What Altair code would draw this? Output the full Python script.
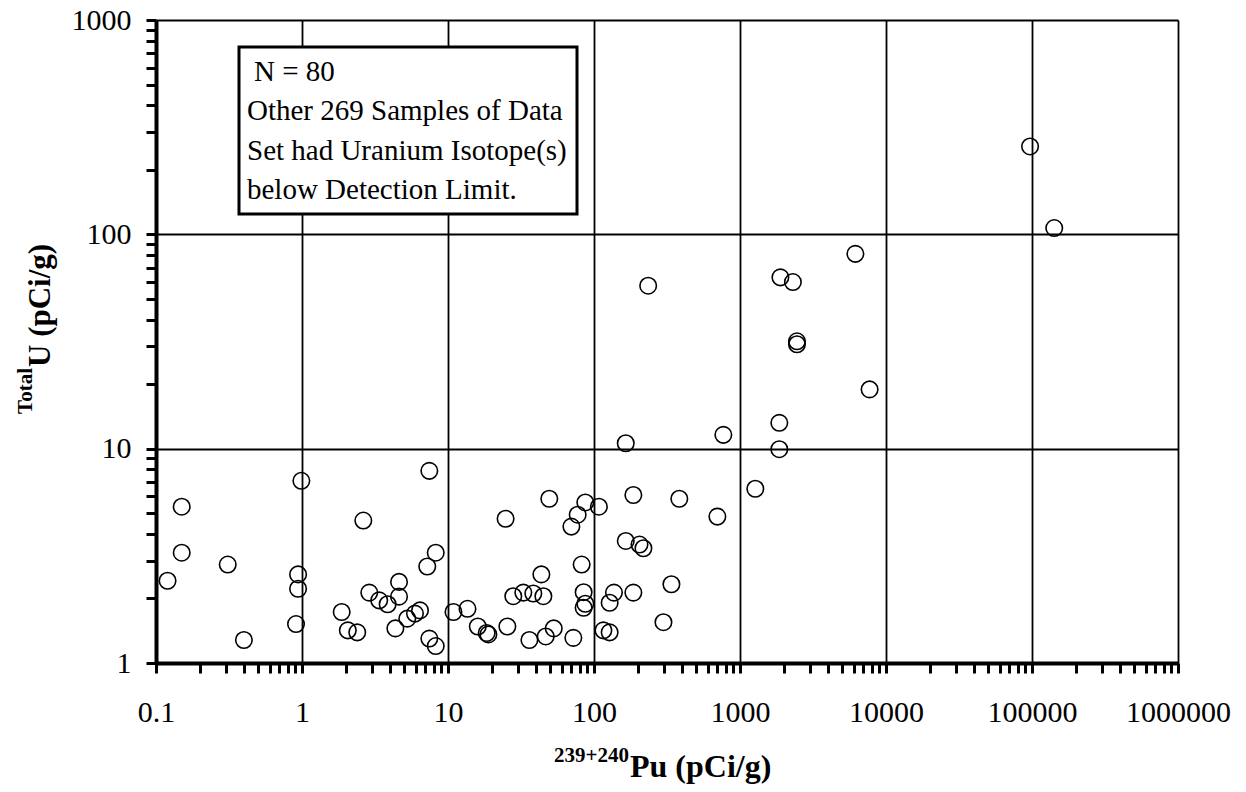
import altair as alt
import pandas as pd

# ---- data ----
pu = [0.12, 0.15, 0.15, 0.31, 0.40, 0.99, 0.94, 0.94, 0.91, 2.63, 1.87, 2.06, 2.39, 2.89, 3.38, 3.86,
      4.62, 4.62, 4.36, 5.26, 5.94, 6.43, 7.45, 8.24, 7.21, 7.45, 8.24, 10.9, 13.6, 16.0, 18.4, 18.9,
      25.5, 24.8, 28.0, 32.8, 38.4, 45.0, 43.6, 49.4, 36.1, 46.7, 53.0, 72.2, 70.0, 77.3, 87.2, 108,
      82.3, 84.9, 87.2, 84.9, 116, 128, 128, 137, 165, 186, 165, 205, 218, 186, 339, 299, 384, 700,
      769, 1273, 1859, 1859,
      97000, 142000, 6170, 235, 1891, 2303, 2456, 2456, 7720]
u = [2.42, 5.36, 3.27, 2.88, 1.28, 7.08, 2.59, 2.22, 1.52, 4.62, 1.73, 1.42, 1.39, 2.13, 1.96, 1.88,
     2.39, 2.04, 1.45, 1.61, 1.70, 1.76, 7.88, 3.27, 2.82, 1.30, 1.20, 1.73, 1.79, 1.48, 1.38, 1.36,
     1.48, 4.71, 2.05, 2.13, 2.11, 2.05, 2.59, 5.84, 1.28, 1.33, 1.45, 1.31, 4.33, 4.92, 5.61, 5.36,
     2.88, 2.14, 1.89, 1.81, 1.42, 1.39, 1.91, 2.13, 10.6, 6.08, 3.71, 3.57, 3.43, 2.13, 2.33, 1.55,
     5.84, 4.82, 11.6, 6.50, 13.2, 9.94,
     257, 107, 81.1, 57.6, 63.0, 59.9, 31.7, 30.7, 18.9]

x_decades = [0.1, 1, 10, 100, 1000, 10000, 100000, 1000000]
y_decades = [1, 10, 100, 1000]
minor_steps = [1, 2, 3, 4, 5, 6, 7, 8, 9]

legend_lines = [" N = 80", "Other 269 Samples of Data", "Set had Uranium Isotope(s)", "below Detection Limit."]
x_title_sup, x_title_main = "239+240", "Pu (pCi/g)"
y_title_sup, y_title_main = "Total", "U (pCi/g)"

FONT = "Liberation Serif"


def all_ticks(decades):
    vals = [round(d * k, 8) for d in decades[:-1] for k in minor_steps]
    return vals + [decades[-1]]


DEC = "abs(log(datum.value)/LN10 - round(log(datum.value)/LN10)) < 0.0001"

df = pd.DataFrame({"pu": pu, "u": u})

common_axis = dict(
    domainColor="black", domainWidth=4, tickColor="black", tickWidth=3, tickSize=10,
    labelFont=FONT, labelFontSize=30, labelColor="black", title=None,
    grid=True, gridColor="black", gridWidth=1.8,
    gridOpacity={"condition": {"test": DEC, "value": 1}, "value": 0},
)

x_axis = alt.Axis(
    values=all_ticks(x_decades), labelPadding=24, labelFlush=False, labelOverlap=False,
    labelExpr=f"({DEC}) ? (datum.value < 1 ? '0.1' : format(datum.value, 'd')) : ''",
    **common_axis)
y_axis = alt.Axis(
    values=all_ticks(y_decades), labelPadding=15, labelFlush=False, labelOverlap=False,
    labelExpr=f"({DEC}) ? format(datum.value, 'd') : ''",
    **common_axis)

points = alt.Chart(df).mark_point(
    shape="circle", filled=False, color="black", strokeWidth=1.6, size=272, opacity=1
).encode(
    x=alt.X("pu:Q", scale=alt.Scale(type="log", domain=[x_decades[0], x_decades[-1]], nice=False), axis=x_axis),
    y=alt.Y("u:Q", scale=alt.Scale(type="log", domain=[y_decades[0], y_decades[-1]], nice=False), axis=y_axis),
)

one = alt.Data(values=[{"k": 0}])

box = alt.Chart(one).mark_rect(fill="white", stroke="black", strokeWidth=3).encode(
    x=alt.value(83), x2=alt.value(421), y=alt.value(27), y2=alt.value(194))

legend_layers = []
for i, line in enumerate(legend_lines):
    # SVG collapses a leading space, so indent that line by one space width instead
    indent = 7 if line.startswith(" ") else 0
    legend_layers.append(
        alt.Chart(one).mark_text(text=line, align="left", baseline="alphabetic", font=FONT,
                                 fontSize=29, color="black")
        .encode(x=alt.value(91 + indent), y=alt.value(61 + 39.3 * i)))

xt_sup = alt.Chart(one).mark_text(text=x_title_sup, align="right", baseline="alphabetic", font=FONT,
                                   fontSize=21, fontWeight="bold", color="black").encode(
    x=alt.value(473), y=alt.value(742))
xt_main = alt.Chart(one).mark_text(text=x_title_main, align="left", baseline="alphabetic", font=FONT,
                                    fontSize=32, fontWeight="bold", color="black").encode(
    x=alt.value(474), y=alt.value(757))

yt_sup = alt.Chart(one).mark_text(text=y_title_sup, align="right", baseline="alphabetic", font=FONT,
                                   fontSize=21, fontWeight="bold", color="black", angle=270).encode(
    x=alt.value(-124), y=alt.value(348))
yt_main = alt.Chart(one).mark_text(text=y_title_main, align="left", baseline="alphabetic", font=FONT,
                                    fontSize=31, fontWeight="bold", color="black", angle=270).encode(
    x=alt.value(-106), y=alt.value(347))

chart = alt.layer(points, box, *legend_layers, xt_sup, xt_main, yt_sup, yt_main).properties(
    width=1022, height=643,
    autosize=alt.AutoSizeParams(type="none"),
    padding={"left": 148, "top": 12, "right": 55, "bottom": 121},
).configure_view(stroke="black", strokeWidth=4).configure(background="white")

chart.save("out.html", embed_options={"renderer": "svg", "actions": False})
